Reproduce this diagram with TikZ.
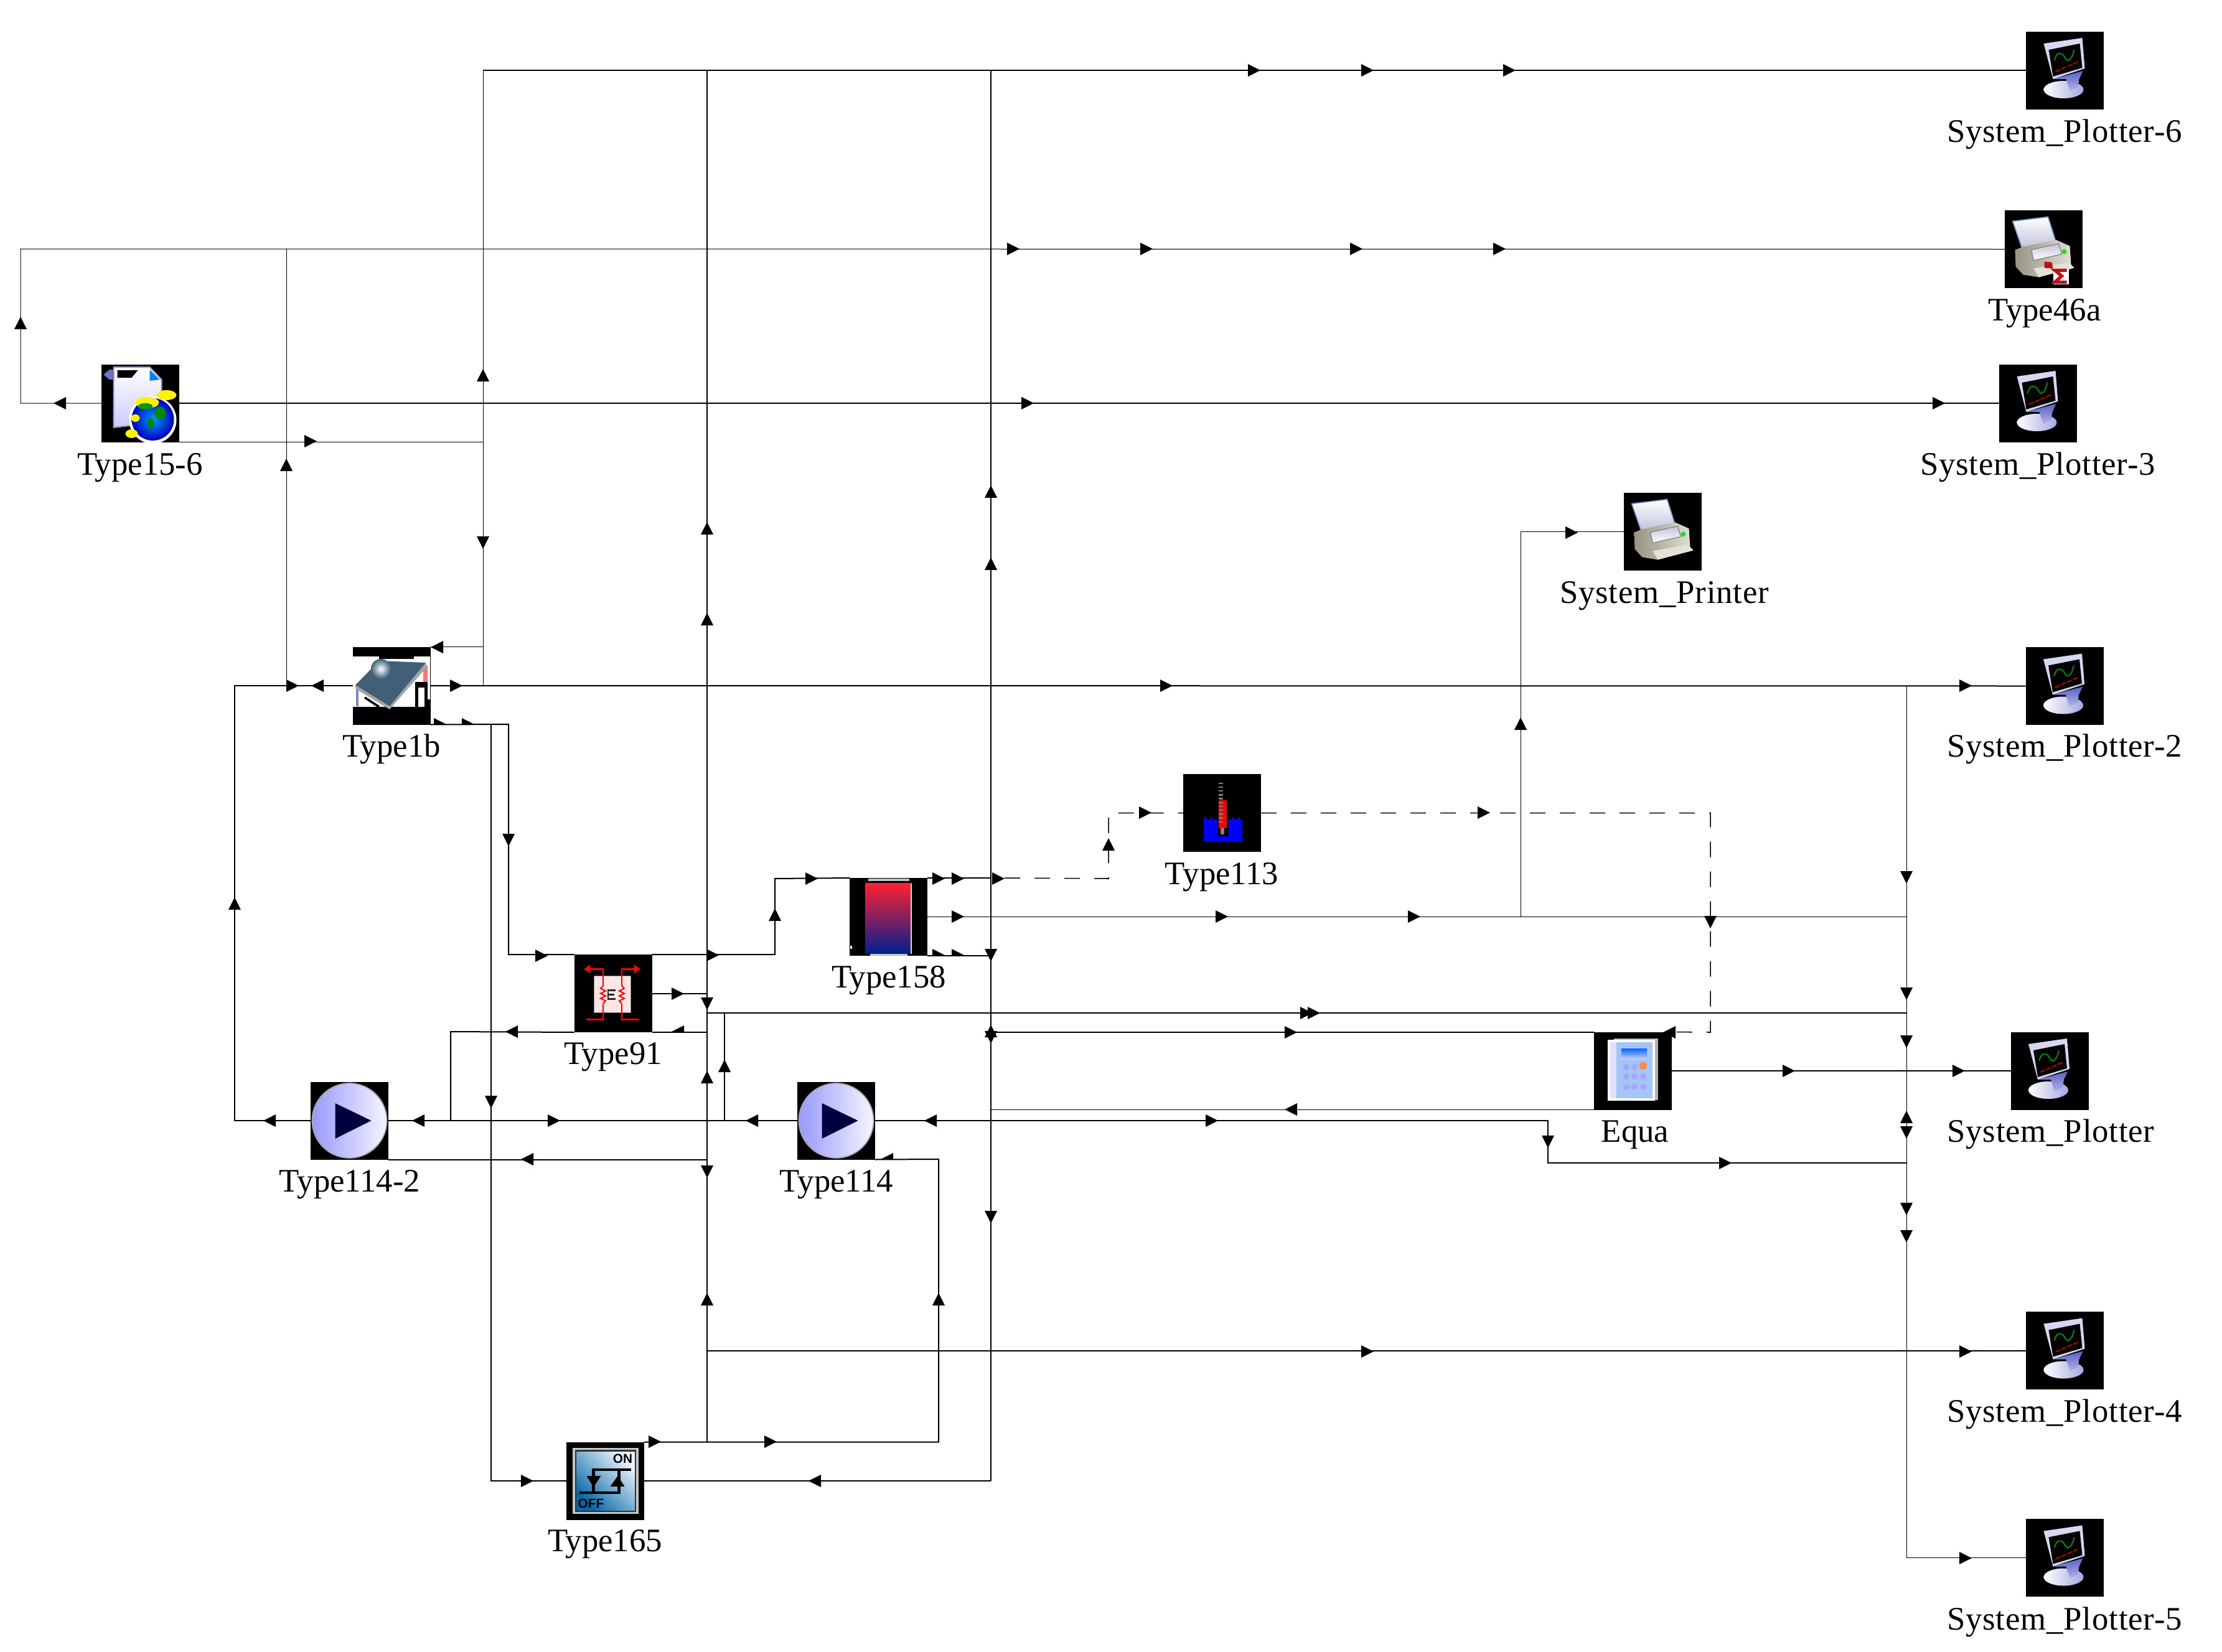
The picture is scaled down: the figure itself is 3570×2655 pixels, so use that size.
\documentclass[tikz,border=0pt]{standalone}
\usepackage{fontspec}
\setmainfont{Liberation Serif}
\newfontfamily\iconsans{Liberation Sans}
\newfontfamily\sysfont[LetterSpace=1.5]{Liberation Serif}
\definecolor{frameblue}{HTML}{D6D8F2}
\definecolor{neckblue}{HTML}{5A60C8}
\definecolor{panelc}{HTML}{3F6076}
\definecolor{paperedge}{HTML}{6A8FD0}
\definecolor{bodyc}{HTML}{C9C4B0}
\definecolor{sumred}{HTML}{C01018}
\definecolor{tanktop}{HTML}{FF2030}
\definecolor{tankmid}{HTML}{8A2860}
\definecolor{tankbot}{HTML}{002090}
\definecolor{relaya}{HTML}{E8F2FA}
\definecolor{relayb}{HTML}{0868A8}
\definecolor{calcbody}{HTML}{A4C6F6}
\tikzset{
  icon/.style={fill=black,draw=none,inner sep=0pt,outer sep=0pt,minimum size=31.25pt,rectangle},
  lab/.style={anchor=base,inner sep=0pt,font=\fontsize{13.2}{15}\selectfont},
  syslab/.style={anchor=base,inner sep=0pt,font=\sysfont\fontsize{13.2}{15}\selectfont},
  wire/.style={line width=0.5pt,draw=black},
  thinwire/.style={line width=0.25pt,draw=black},
  dashwire/.style={line width=0.38pt,draw=black,dash pattern=on 6.25pt off 5.75pt},
  plotterpic/.pic={
    \fill[frameblue] (-34,-43)--(28,-52)--(32,-3)--(-19,14)--cycle;
    \fill[black] (-26,-33)--(24,-43)--(28,-4)--(-19,10)--cycle;
    \draw[green!55!black,line width=0.5pt] plot[smooth] coordinates {(-17,-16)(-12,-26)(-4,-26)(4,-16)(11,-21)(15,-33)};
    \draw[red!70!black,line width=0.55pt,dash pattern=on 2pt off .6pt] (-15,2)--(22,-14);
    \shade[left color=white,right color=frameblue!60!neckblue] (-2,31) ellipse (32 and 14);
    \shade[top color=neckblue,bottom color=frameblue!70!neckblue] (-19,14)--(29,1)--(23,14)--(21,27)--(8,33)--(2,14)--cycle;
  },
  printerbase/.pic={
    \shade[top color=white,bottom color=black!10!frameblue,draw=paperedge,line width=0.4pt] (-50,-45)--(7,-52)--(19,-14)--(-35,-2)--cycle;
    \shade[left color=bodyc!75!black,right color=bodyc!50!white] (-46,1)--(-33,-4)--(20,-15)--(42,-5)--(44,25)--(49,30)--(-8,45)--(-33,41)--(-45,28)--cycle;
    \shade[top color=black!10!frameblue,bottom color=white,draw=gray,line width=0.3pt] (-20,1)--(24,-9)--(29,8)--(-16,18)--cycle;
    \fill[green!70!gray] (33,4) circle (4);
    \fill[bodyc!50!white] (-16,31)--(40,21)--(49,30)--(-8,45)--cycle;
  },
  summpic/.pic={
    \fill[sumred] (1,20)--(13,21)--(15,31)--(1,30)--cycle;
    \fill[white] (15,31) rectangle (40,56);
    \draw[sumred,line width=1.3pt] (37,34)--(18,34)--(29,43)--(18,53)--(37,53);
  },
  collectorpic/.pic={
    \fill[white] (-62,-47) rectangle (62,34);
    \fill[black] (-20,-47) rectangle (36,-43);
    \fill[black] (38,-6) rectangle (58,34);
    \fill[white] (43,3) rectangle (53,34);
    \draw[black,line width=.9pt] (-43,19)--(-20,34);
    \fill[black] (58,22) rectangle (62,34);
    \fill[red!55!white] (51,-32) rectangle (58,-6);
    \fill[blue!40!gray!70!white] (-57,4) rectangle (-53,33);
    \fill[gray!70!white] (-58,-1)--(-3,33)--(55,-37)--(57,-30)--(-3,38)--(-58,5)--cycle;
    \fill[panelc] (-20,-40)--(55,-37)--(-3,33)--(-58,-1)--cycle;
    \shade[inner color=white,outer color=panelc] (-17,-27) circle (16);
  },
  hxpic/.pic={
    \fill[red!10!white,draw=gray,line width=.25pt] (-31,-28) rectangle (28,31);
    \draw[red,line width=.55pt] (-40,-39)--(-16,-39)--(-16,-12);
    \draw[red,line width=.55pt] (-16,17)--(-16,42)--(-43,42);
    \draw[red,line width=.55pt] (38,-39)--(14,-39)--(14,-12);
    \draw[red,line width=.55pt] (14,17)--(14,42)--(41,42);
    \draw[red,line width=.5pt] (-16,-12)--(-20,-8)--(-12,-4)--(-20,0)--(-12,4)--(-20,8)--(-12,12)--(-16,17);
    \draw[red,line width=.5pt] (14,-12)--(18,-8)--(10,-4)--(18,0)--(10,4)--(18,8)--(10,12)--(14,17);
    \fill[red] (-47,-39)--(-37,-46)--(-37,-32)--cycle;
    \fill[red] (44,-39)--(34,-46)--(34,-32)--cycle;
    \draw[black!85,line width=.55pt] (4,-5)--(-8,-5)--(-8,9)--(4,9);
    \draw[black!85,line width=.55pt] (-8,2)--(2,2);
  },
  tankpic/.pic={
    \fill[gray!50!white] (-33,-62) rectangle (33,-58);
    \fill[gray!50!white] (-30,58) rectangle (30,62);
    \shade[top color=tanktop,middle color=tankmid,bottom color=tankbot] (-37,-54) rectangle (37,59);
    \fill[white!80!red] (35,-54) rectangle (37,59);
    \fill[white] (-62,46) rectangle (-59,51);
  },
  pumppic/.pic={
    \shade[left color=blue!40!white,right color=blue!4!white,draw=gray!70!white,line width=.45pt] (0,0) circle (60);
    \fill[blue!25!black] (-23,-28)--(35,0)--(-23,29)--cycle;
  },
  probepic/.pic={
    \fill[blue] (-30,10) rectangle (32,46);
    \foreach \bx in {-27,-17,18,27} {\fill[blue] (\bx-1.5,6) rectangle (\bx+1.5,10);}
    \fill[black] (-8,10) rectangle (10,37);
    \fill[red] (-6,-21) rectangle (7,24);
    \fill[gray] (-3,24) rectangle (3,34);
    \foreach \i in {0,...,10} {\fill[gray] (-6,-49+\i*6.2) rectangle (1,-46.5+\i*6.2);}
  },
  relaypic/.pic={
    \fill[gray!45!white] (-53,-53) rectangle (53,53);
    \fill[black!80] (-49,-50) rectangle (49,50);
    \shade[shading=axis,left color=relaya,right color=relayb,shading angle=-45] (-46,-47) rectangle (47,47);
    \draw[line width=1.2pt] (41,-18)--(-19,-18)--(-19,19)--(-42,19);
    \draw[line width=1.2pt] (22,-18)--(22,19)--(-19,19);
    \fill (-30,-8)--(-7,-8)--(-19,10)--cycle;
    \fill (8,9)--(31,9)--(20,-8)--cycle;
    \node[inner sep=0pt,font=\iconsans\bfseries\fontsize{5.2}{6}\selectfont] (on) at (28,-36) {ON};
    \node[inner sep=0pt,font=\iconsans\bfseries\fontsize{5.2}{6}\selectfont] (off) at (-23,36) {OFF};
  },
  calcpic/.pic={
    \fill[gray!60!white] (-30,-52) rectangle (41,47);
    \fill[white] (-40,-50) rectangle (36,48);
    \fill[calcbody] (-36,-46) rectangle (32,44);
    \fill[blue!12!white] (-36,-46) rectangle (-26,44);
    \shade[top color=blue!60!cyan,bottom color=blue!20!white] (-18,-36) rectangle (23,-19);
    \foreach \bx in {-10,3} {\fill[blue!35!white] (\bx,-6) circle (5);}
    \foreach \bx in {-10,3,17} {\foreach \by in {9,26} {\fill[blue!35!white] (\bx,\by) circle (5);}}
    \fill[orange!75!red!75!white] (17,-8) circle (6);
  },
  filepic/.pic={
    \shade[top color=white,bottom color=blue!20!white,draw=blue!35!gray!60!white,line width=.5pt] (-43,-58)--(15,-58)--(34,-38)--(34,30)--(-43,39)--cycle;
    \fill[black] (-37,-53)--(-4,-53)--(-14,-41)--(-37,-41)--cycle;
    \fill[blue!50!cyan] (15,-54)--(31,-38)--(15,-36)--cycle;
    \fill[blue!50!gray!75!white] (-59,-46)--(-50,-54)--(-44,-54)--(-44,-38)--(-50,-38)--cycle;
    \fill[white] (20,27) circle (38);
    \shade[inner color=cyan!60!blue,outer color=blue!75!black] (20,26) circle (34);
    \fill[yellow] (11,-1) ellipse (19 and 9);
    \fill[yellow] (42,-13) ellipse (16 and 8);
    \fill[yellow] (-14,49) ellipse (10 and 7);
    \fill[yellow] (-8,24) ellipse (7 and 6);
    \fill[green!55!black] (32,16) ellipse (9 and 10);
    \fill[green!55!black] (17,32) ellipse (5 and 9);
    \fill[green!60!black] (8,5) ellipse (12 and 5);
  }
}
\newcommand{\ah}[3]{\fill[shift={(#1,#2)},rotate=#3] (-10,-10)--(10,0)--(-10,10)--cycle;}
\newcommand{\hR}[2]{\fill[shift={(#1,#2)}] (-10,-10)--(10,0)--(-10,1)--cycle;}
\newcommand{\hL}[2]{\fill[shift={(#1,#2)}] (10,-10)--(-10,0)--(10,1)--cycle;}
\begin{document}
\begin{tikzpicture}[x=0.25pt,y=-0.25pt]
\fill[white] (0,0) rectangle (3570,2655);
\useasboundingbox (0,0) rectangle (3570,2655);
% icons
\node[icon] (P6) at (3317.5,113) {};  \pic at (P6) {plotterpic};
\node[icon] (T46) at (3283.5,400.5) {}; \pic at (T46) {printerbase}; \pic at (T46) {summpic};
\node[icon] (P3) at (3274.5,648) {};  \pic at (P3) {plotterpic};
\node[icon] (T156) at (225.5,648) {}; \pic at (T156) {filepic};
\node[icon] (PR) at (2671.5,854.5) {}; \pic at (PR) {printerbase};
\node[icon] (T1b) at (629,1102) {};   \pic at (T1b) {collectorpic};
\node[icon] (P2) at (3317,1102.5) {}; \pic at (P2) {plotterpic};
\node[icon] (T113) at (1963.5,1306.5) {}; \pic at (T113) {probepic};
\node[icon] (T158) at (1427.5,1473.5) {}; \pic at (T158) {tankpic};
\node[icon] (T91) at (985,1596.5) {}; \pic at (T91) {hxpic};
\node[icon] (T1142) at (561.5,1801) {}; \pic at (T1142) {pumppic};
\node[icon] (T114) at (1343.5,1801) {}; \pic at (T114) {pumppic};
\node[icon] (Eq) at (2623,1721) {};   \pic at (Eq) {calcpic};
\node[icon] (P1) at (3293,1721) {};   \pic at (P1) {plotterpic};
\node[icon] (P4) at (3317.5,2170.5) {}; \pic at (P4) {plotterpic};
\node[icon] (T165) at (972.5,2380) {}; \pic at (T165) {relaypic};
\node[icon] (P5) at (3317.5,2503.5) {}; \pic at (P5) {plotterpic};
% labels
\node[syslab] (lP6) at (3317,228) {System\_Plotter-6};
\node[lab] (lT46) at (3285,515) {Type46a};
\node[syslab] (lP3) at (3274,763) {System\_Plotter-3};
\node[lab] (lT156) at (225,763) {Type15-6};
\node[syslab] (lPR) at (2674,969) {System\_Printer};
\node[lab] (lT1b) at (629,1216) {Type1b};
\node[syslab] (lP2) at (3317,1216) {System\_Plotter-2};
\node[lab] (lT113) at (1963,1421) {Type113};
\node[lab] (lT158) at (1428,1587) {Type158};
\node[lab] (lT91) at (985,1710) {Type91};
\node[lab] (lT1142) at (562,1915) {Type114-2};
\node[lab] (lT114) at (1344,1915) {Type114};
\node[lab] (lEq) at (2627,1835) {Equa};
\node[syslab] (lP1) at (3295,1835) {System\_Plotter};
\node[syslab] (lP4) at (3317,2285) {System\_Plotter-4};
\node[lab] (lT165) at (972,2493) {Type165};
\node[syslab] (lP5) at (3317,2619) {System\_Plotter-5};
% routing points
\coordinate (bA) at (776,113);
\coordinate (bB) at (1136,113);
\coordinate (bC) at (1592,113);
\coordinate (bD) at (3063,1102);
\coordinate (lc) at (33,400);
\coordinate (xa) at (460,400);
\coordinate (lf) at (377,1102);
\coordinate (xb) at (817,1164);
\coordinate (xc) at (789,1164);
\coordinate (xd) at (1245,1412);
\coordinate (xe) at (1781,1412);
\coordinate (xf) at (2748,1659);
\coordinate (xg) at (2443,1473);
\coordinate (xh) at (724,1658);
\coordinate (ya) at (1136,1628);
\coordinate (xi) at (1164,1628);
\coordinate (xj) at (2487,1801);
\coordinate (yb) at (3063,1869);
\coordinate (xk) at (1508,1863);
% connectors
\draw[wire] (bA) -- (P6.west);
\draw[thinwire] (bA) -- (bA |- T1b.east);
\draw[wire] (bB) -- (bB |- T165.north east);
\draw[wire] (bC) -- (bC |- T165.east);
\draw[thinwire] (T156.west) -- (lc |- T156.west) -- (lc) -- (T46.west);
\draw[thinwire] (xa) -- (xa |- T1b.west);
\draw[wire] (T156.east) -- (P3.west);
\draw[thinwire] (T156.south east) -- (bA |- T156.south east);
\draw[thinwire] (bA |- T1b.north east) -- (T1b.north east);
\draw[wire] (T1b.west) -- (lf) -- (lf |- T1142.west) -- (T1142.west);
\draw[wire] (T1b.east) -- (P2.west);
\draw[thinwire] (bD) -- (bD |- P5.west) -- (P5.west);
\draw[wire] (T1b.south east) -- (xb) -- (xb |- T91.north west) -- (T91.north west);
\draw[wire] (xc) -- (xc |- T165.west) -- (T165.west);
\draw[wire] (T91.north east) -- (xd |- T91.north east) -- (xd) -- (T158.north west);
\draw[wire] (T158.north east) -- (bC |- T158.north east);
\draw[dashwire] (bC |- T158.north east) ++(22,0) -- (xe) -- (xe |- T113.west) -- (T113.west);
\draw[dashwire] (T113.east) -- (xf |- T113.east) -- (xf) -- (Eq.north east);
\draw[thinwire] (T158.east) -- (bD |- T158.east);
\draw[thinwire] (xg) -- (xg |- PR.west) -- (PR.west);
\draw[wire] (T158.south east) -- (bC |- T158.south east);
\draw[wire] (T91.east) -- (bB |- T91.east);
\draw[wire] (T91.south east) -- (bB |- T91.south east);
\draw[wire] (T91.south west) -- (xh) -- (xh |- T1142.east);
\draw[wire] (ya) -- (ya -| bD);
\draw[wire] (xi) -- (xi |- T114.west);
\draw[wire] (T114.west) -- (T1142.east);
\draw[wire] (T114.east) -- (xj) -- (xj |- yb) -- (yb);
\draw[wire] (T114.south east) -- (xk) -- (xk |- T165.north east) -- (T165.north east);
\draw[wire] (T1142.south east) -- (bB |- T1142.south east);
\draw[wire] (bB |- P4.west) -- (P4.west);
\draw[wire] (T165.east) -- (bC |- T165.east);
\draw[wire] (Eq.north west) -- (bC |- Eq.north west);
\draw[thinwire] (Eq.south west) -- (bC |- Eq.south west);
\draw[wire] (Eq.east) -- (P1.west);
% arrowheads
\ah{2015}{113}{0}\ah{2197}{113}{0}\ah{2425}{113}{0}
\ah{1628}{400}{0}\ah{1842}{400}{0}\ah{2179}{400}{0}\ah{2409}{400}{0}
\ah{96}{648}{180}\ah{1651}{648}{0}\ah{3115}{648}{0}
\ah{33}{519}{90}
\ah{499}{709}{0}
\ah{776}{603}{90}\ah{776}{872}{270}
\ah{702}{1040}{180}
\ah{460}{747}{90}
\ah{470}{1102}{0}\ah{510}{1102}{180}
\ah{377}{1452}{90}\ah{433}{1801}{180}
\ah{733}{1102}{0}\ah{1874}{1102}{0}\ah{3158}{1102}{0}
\ah{3063}{1410}{270}\ah{3063}{1597}{270}\ah{3063}{1674}{270}
\ah{3063}{1795}{90}\ah{3063}{1820}{270}\ah{3063}{1943}{270}\ah{3063}{1987}{270}
\ah{3158}{2504}{0}
\hR{707}{1164}\hR{752}{1164}
\ah{817}{1350}{270}\ah{870}{1536}{0}
\ah{789}{1771}{270}\ah{847}{2380}{0}
\ah{1145}{1535}{0}\ah{1245}{1470}{90}\ah{1304}{1412}{0}
\ah{1508}{1412}{0}\ah{1539}{1412}{0}\ah{1604}{1412}{0}
\ah{1781}{1357}{90}\ah{1840}{1306}{0}
\ah{2384}{1306}{0}\ah{2748}{1482}{270}\ah{2682}{1659}{180}
\ah{1539}{1473}{0}\ah{1963}{1473}{0}\ah{2272}{1473}{0}
\ah{2443}{1163}{90}\ah{2525}{856}{0}
\hR{1508}{1535}\hR{1539}{1535}\ah{1592}{1535}{270}
\ah{1089}{1597}{0}\ah{1136}{1613}{270}\hL{1089}{1658}
\ah{822}{1658}{180}
\ah{2099}{1628}{0}\ah{2111}{1628}{0}\ah{1164}{1713}{90}
\ah{1208}{1801}{180}\ah{672}{1801}{180}\ah{890}{1801}{0}
\ah{1495}{1801}{180}\ah{1947}{1801}{0}\ah{2487}{1835}{270}\ah{2772}{1869}{0}
\hL{1425}{1863}\ah{1508}{2088}{90}
\ah{1052}{2317}{0}\ah{1238}{2317}{0}
\ah{847}{1863}{180}\ah{1136}{1883}{270}
\ah{1136}{849}{90}\ah{1136}{995}{90}\ah{1136}{1731}{90}\ah{1136}{2088}{90}
\ah{2197}{2172}{0}\ah{3158}{2172}{0}
\ah{1309}{2380}{180}
\ah{1592}{790}{90}\ah{1592}{906}{90}\ah{1592}{1956}{270}
\ah{1592}{1657}{90}\ah{1592}{1667}{270}
\ah{2074}{1659}{0}\ah{2074}{1783}{180}
\ah{2874}{1721}{0}\ah{3147}{1721}{0}
\end{tikzpicture}
\end{document}
